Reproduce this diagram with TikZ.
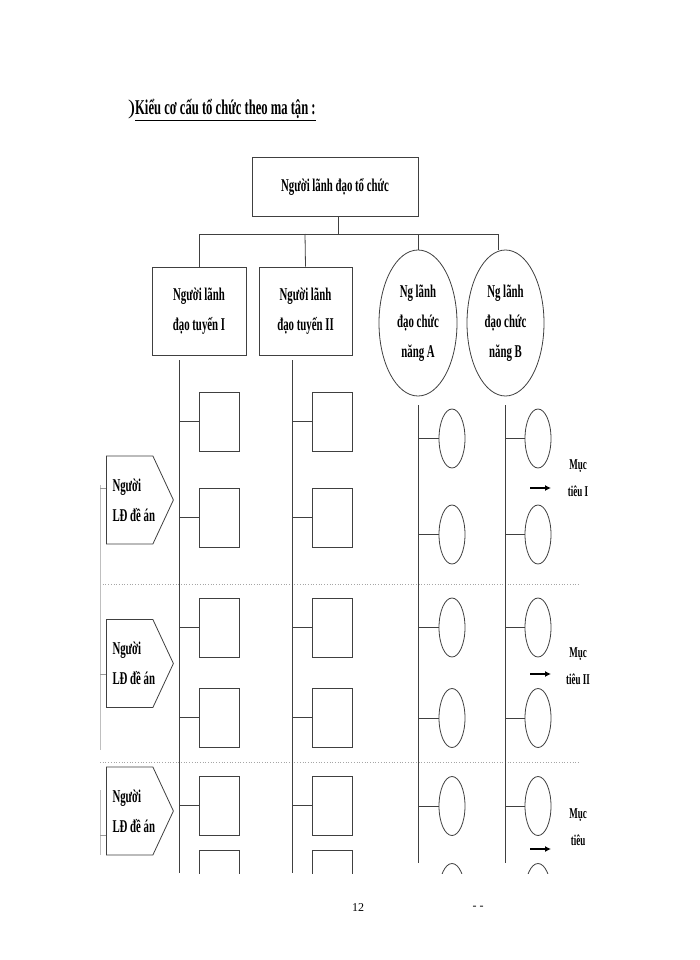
\documentclass[tikz,border=0pt]{standalone}
\usepackage{fontspec}
\setmainfont{Liberation Serif}
\usepackage{graphicx}
\usetikzlibrary{shapes.geometric,shapes.symbols,arrows.meta}
\newcommand{\cn}[1]{\scalebox{0.6}[1]{\bfseries #1}}
\begin{document}
\begin{tikzpicture}[x=1pt,y=-1pt,
  ln/.style={draw=black!75,line width=0.8pt},
  bx/.style={draw=black!75,line width=0.9pt,rectangle,inner sep=0pt},
  el/.style={draw=black!75,line width=0.8pt,ellipse,inner sep=0pt},
  tx/.style={font=\fontsize{18}{30}\selectfont,align=center},
  sep/.style={draw=black!35,dotted,line width=0.7pt}]
\path[fill=white] (0,0) rectangle (700,960);
\node[anchor=west,font=\fontsize{21}{22}\selectfont,inner sep=0pt] (title) at (128,110) {)\underline{\cn{Kiểu cơ cấu tổ chức theo ma tận :}}};
\node[bx,minimum width=166pt,minimum height=59pt,tx] (top) at (335,186.5) {\cn{Người lãnh đạo tổ chức}};
\node[bx,minimum width=94pt,minimum height=88pt,tx] (t1) at (199,311) {\cn{Người lãnh}\\\cn{đạo tuyến I}};
\node[bx,minimum width=93pt,minimum height=88pt,tx] (t2) at (305.5,311) {\cn{Người lãnh}\\\cn{đạo tuyến II}};
\node[el,minimum width=78pt,minimum height=146pt,tx] (fa) at (418,323) {\cn{Ng lãnh}\\\cn{đạo chức}\\\cn{năng A}};
\node[el,minimum width=77pt,minimum height=146pt,tx] (fb) at (505.5,323) {\cn{Ng lãnh}\\\cn{đạo chức}\\\cn{năng B}};
\coordinate (j) at (338,234);
\draw[ln] (top.south -| j) -- (j);
\draw[ln] (t1.north) -- (199,234) -- (498,234) -- (498,250);
\draw[ln] (305,234) -- (t2.north);
\draw[ln] (418,234) -- (fa.north);
\draw[sep] (100,584) -- (578,584);
\draw[sep] (100,762) -- (578,762);
\draw[draw=black!25,line width=0.6pt] (100,485) -- (100,750);
\draw[draw=black!25,line width=0.6pt] (100,790) -- (100,855);
\begin{scope}
\clip (0,355) rectangle (700,873);
\draw[ln] (179,360) -- (179,873);
\draw[ln] (292,360) -- (292,873);
\draw[ln] (418,405) -- (418,863);
\draw[ln] (505,405) -- (505,863);
\foreach \yc/\n in {421.5/1,517.5/2,627.5/3,717.5/4,805.5/5,879.5/6}{
  \node[bx,minimum width=40pt,minimum height=59pt] (a\n) at (219,\yc) {};
  \node[bx,minimum width=40pt,minimum height=59pt] (b\n) at (332,\yc) {};
  \draw[ln] (179,\yc) -- (a\n.west);
  \draw[ln] (292,\yc) -- (b\n.west);
}
\foreach \yc/\n in {438.5/1,534.5/2,627.5/3,718/4,806/5,893/6}{
  \node[el,minimum width=26pt,minimum height=59pt] (c\n) at (452,\yc) {};
  \node[el,minimum width=26pt,minimum height=59pt] (d\n) at (538,\yc) {};
  \draw[ln] (418,\yc) -- (c\n.west);
  \draw[ln] (505,\yc) -- (d\n.west);
}
\end{scope}
\foreach \yc/\tk/\n in {500/488/1,663.5/674/2,811/835/3}{
  \node[draw=black!75,line width=0.8pt,signal,signal to=east,signal pointer angle=130,minimum width=67pt,minimum height=88pt,inner sep=0pt,anchor=west] (p\n) at (106,\yc) {};
  \node[tx,align=left,anchor=west] (q\n) at (109,\yc) {\cn{Người}\\\cn{LĐ đề án}};
  \draw[draw=black!40,line width=0.6pt] (100,\tk) -- (p\n.west |- 0,\tk);
}
\node[tx,font=\fontsize{15}{27}\selectfont] (m1) at (578,478) {\cn{Mục}\\\cn{tiêu I}};
\node[tx,font=\fontsize{15}{27}\selectfont] (m2) at (578,666) {\cn{Mục}\\\cn{tiêu II}};
\node[tx,font=\fontsize{15}{27}\selectfont] (m3) at (578,827) {\cn{Mục}\\\cn{tiêu}};
\coordinate (s1) at (530,488); \coordinate (e1) at (551,488);
\coordinate (s2) at (530,674); \coordinate (e2) at (551,674);
\coordinate (s3) at (530,849); \coordinate (e3) at (551,849);
\foreach \n in {1,2,3}{\draw[line width=1.4pt,-{Latex[length=6pt,width=6pt]}] (s\n) -- (e\n);}
\node[font=\fontsize{12}{14}\selectfont] (pg) at (358,908) {12};
\node[font=\fontsize{12}{14}\selectfont] (dd) at (478,908) {- -};
\end{tikzpicture}
\end{document}
